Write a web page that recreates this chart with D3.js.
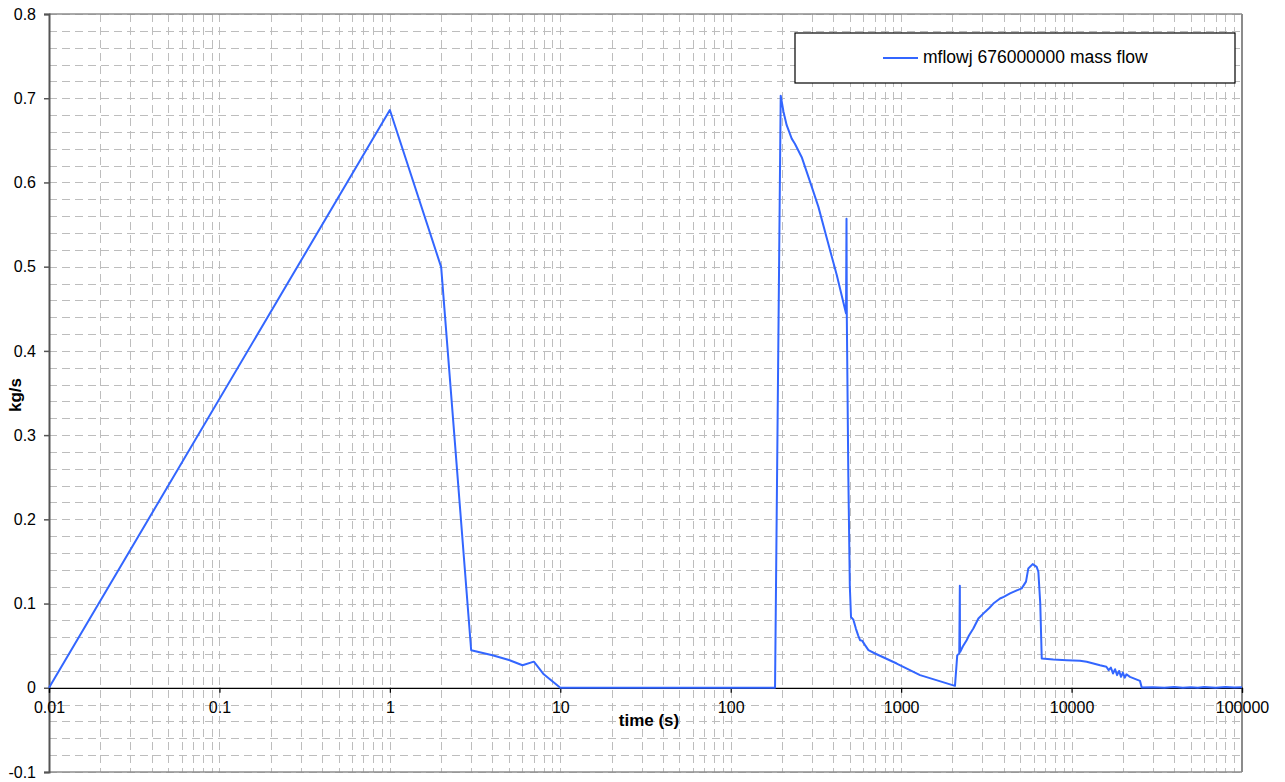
<!DOCTYPE html>
<html>
<head>
<meta charset="utf-8">
<script src="https://cdn.jsdelivr.net/npm/d3@7/dist/d3.min.js"></script>
<style>
  html, body { margin: 0; padding: 0; background: #ffffff; }
  svg { display: block; font-family: "Liberation Sans", Arial, sans-serif; }
</style>
</head>
<body>
<svg id="chart" width="1285" height="782"></svg>
<script>
// ---- data ----
const seriesName = "mflowj 676000000 mass flow";
const xTitle = "time (s)";
const yTitle = "kg/s";
const xTickValues = [0.01, 0.1, 1, 10, 100, 1000, 10000, 100000];
const xTickLabels = ["0.01", "0.1", "1", "10", "100", "1000", "10000", "100000"];
const yTickValues = [-0.1, 0, 0.1, 0.2, 0.3, 0.4, 0.5, 0.6, 0.7, 0.8];
const yTickLabels = ["-0.1", "0", "0.1", "0.2", "0.3", "0.4", "0.5", "0.6", "0.7", "0.8"];

const time = [
  0.01, 1, 2, 3, 4, 5, 6, 7, 8, 10,
  20, 50, 100, 150, 182,
  196.5, 204, 213, 228, 238, 261, 292, 327, 366, 419, 475, 478, 480, 490, 500, 508,
  524, 543, 560, 574, 590, 614, 643, 703, 942, 1291, 2070,
  2134, 2193, 2210, 2215, 2222, 2300, 2423, 2500, 2652, 2840, 3106, 3300, 3477, 3804, 4000, 4355, 4700, 5097,
  5403, 5574, 5912, 6241, 6384, 6550, 6683, 7820, 9360, 11200, 12270, 14690,
  16000, 16500, 17000, 17500, 18000, 18500, 19000, 19500, 20000, 20500, 21000, 22000,
  25200, 25800, 30000, 35000, 40000, 45000, 50000, 55000, 60000, 70000, 80000, 90000, 100000
];
const flow = [
  0, 0.686, 0.4995, 0.0446, 0.0387, 0.033, 0.0268, 0.031, 0.016, 0,
  0, 0, 0, 0, 0,
  0.703, 0.684, 0.668, 0.652, 0.646, 0.630, 0.601, 0.571, 0.534, 0.490, 0.4445, 0.557, 0.44, 0.25, 0.12, 0.084,
  0.081, 0.070, 0.062, 0.0565, 0.056, 0.0506, 0.0447, 0.0407, 0.0288, 0.015, 0.0023,
  0.0387, 0.0407, 0.121, 0.043, 0.0427, 0.049, 0.0565, 0.062, 0.0704, 0.0823, 0.0901, 0.095, 0.100, 0.106, 0.108, 0.112, 0.115, 0.118,
  0.126, 0.1417, 0.1468, 0.1436, 0.1377, 0.10, 0.0348, 0.0336, 0.0328, 0.032, 0.031, 0.0268,
  0.025, 0.021, 0.024, 0.017, 0.022, 0.015, 0.020, 0.013, 0.018, 0.012, 0.016, 0.013,
  0.0082, 0.0003, 0.0006, 0.0, 0.0008, 0.0, 0.0006, 0.0, 0.0008, 0.0, 0.0008, 0.0003, 0.0005
];

// ---- layout ----
const svg = d3.select("#chart");
const L = 49, R = 1242, T = 14, B = 772;
const x = d3.scaleLog().domain([0.01, 100000]).range([L, R]);
const y = d3.scaleLinear().domain([-0.1, 0.8]).range([B, T]);

// grid
const vGrid = [];
for (let k = -2; k <= 4; k++) for (let m = 1; m <= 9; m++) vGrid.push(m * Math.pow(10, k));
const hGrid = d3.range(-0.1, 0.8001, 0.02);

const grid = svg.append("g").attr("stroke", "#bdbdbd").attr("stroke-width", 1)
  .attr("stroke-dasharray", "8,5").attr("fill", "none");
grid.selectAll("line.h").data(hGrid).join("line").attr("class", "h")
  .attr("x1", L).attr("x2", R)
  .attr("y1", d => Math.round(y(d)) + 0.5).attr("y2", d => Math.round(y(d)) + 0.5);
grid.selectAll("line.v").data(vGrid).join("line").attr("class", "v")
  .attr("y1", T).attr("y2", B)
  .attr("x1", d => Math.round(x(d)) + 0.5).attr("x2", d => Math.round(x(d)) + 0.5);

// frame
svg.append("line").attr("x1", L).attr("x2", R).attr("y1", T).attr("y2", T)
  .attr("stroke", "#8c8c8c").attr("stroke-width", 1.5);
svg.append("line").attr("x1", L).attr("x2", R).attr("y1", B).attr("y2", B)
  .attr("stroke", "#8c8c8c").attr("stroke-width", 1.5);
svg.append("line").attr("x1", R).attr("x2", R).attr("y1", T).attr("y2", B)
  .attr("stroke", "#8c8c8c").attr("stroke-width", 2);

// y axis
const yAxis = d3.axisLeft(y).tickValues(yTickValues)
  .tickFormat((d, i) => yTickLabels[i]).tickSize(5).tickPadding(8);
const gy = svg.append("g").attr("transform", `translate(${L},0)`).call(yAxis);
gy.select(".domain").attr("stroke", "#555").attr("stroke-width", 2);
gy.selectAll(".tick line").attr("stroke", "#555").attr("stroke-width", 1.5);
gy.selectAll(".tick text").attr("font-size", 16).attr("fill", "#000")
  .attr("font-family", "'Liberation Sans', Arial, sans-serif");

// x axis at y = 0
const xAxis = d3.axisBottom(x).tickValues(xTickValues)
  .tickFormat((d, i) => xTickLabels[i]).tickSize(5).tickPadding(9);
const gx = svg.append("g").attr("transform", `translate(0,${y(0)})`).call(xAxis);
gx.select(".domain").attr("stroke", "#000").attr("stroke-width", 1.2);
gx.selectAll(".tick line").attr("stroke", "#000").attr("stroke-width", 1.2);
gx.selectAll(".tick text").attr("font-size", 16).attr("fill", "#000")
  .attr("font-family", "'Liberation Sans', Arial, sans-serif");

// axis titles
svg.append("text").attr("x", 649).attr("y", 722).attr("text-anchor", "middle")
  .attr("dominant-baseline", "middle").attr("font-size", 17).attr("font-weight", "bold")
  .text(xTitle);
svg.append("text").attr("transform", "translate(17,395) rotate(-90)")
  .attr("text-anchor", "middle").attr("dominant-baseline", "middle")
  .attr("font-size", 17).attr("font-weight", "bold").text(yTitle);

// series
const pts = time.map((t, i) => [t, flow[i]]);
const line = d3.line().x(d => x(d[0])).y(d => y(d[1]));
svg.append("path").datum(pts).attr("d", line).attr("fill", "none")
  .attr("stroke", "#3366ff").attr("stroke-width", 2).attr("stroke-linejoin", "round");

// legend
const lg = svg.append("g");
lg.append("rect").attr("x", 795).attr("y", 33).attr("width", 440).attr("height", 50)
  .attr("fill", "#fff").attr("stroke", "#000").attr("stroke-width", 1.2);
lg.append("line").attr("x1", 883).attr("x2", 918).attr("y1", 58).attr("y2", 58)
  .attr("stroke", "#3366ff").attr("stroke-width", 2);
lg.append("text").attr("x", 923).attr("y", 58).attr("dominant-baseline", "middle")
  .attr("font-size", 17.5).text(seriesName);
</script>
</body>
</html>
